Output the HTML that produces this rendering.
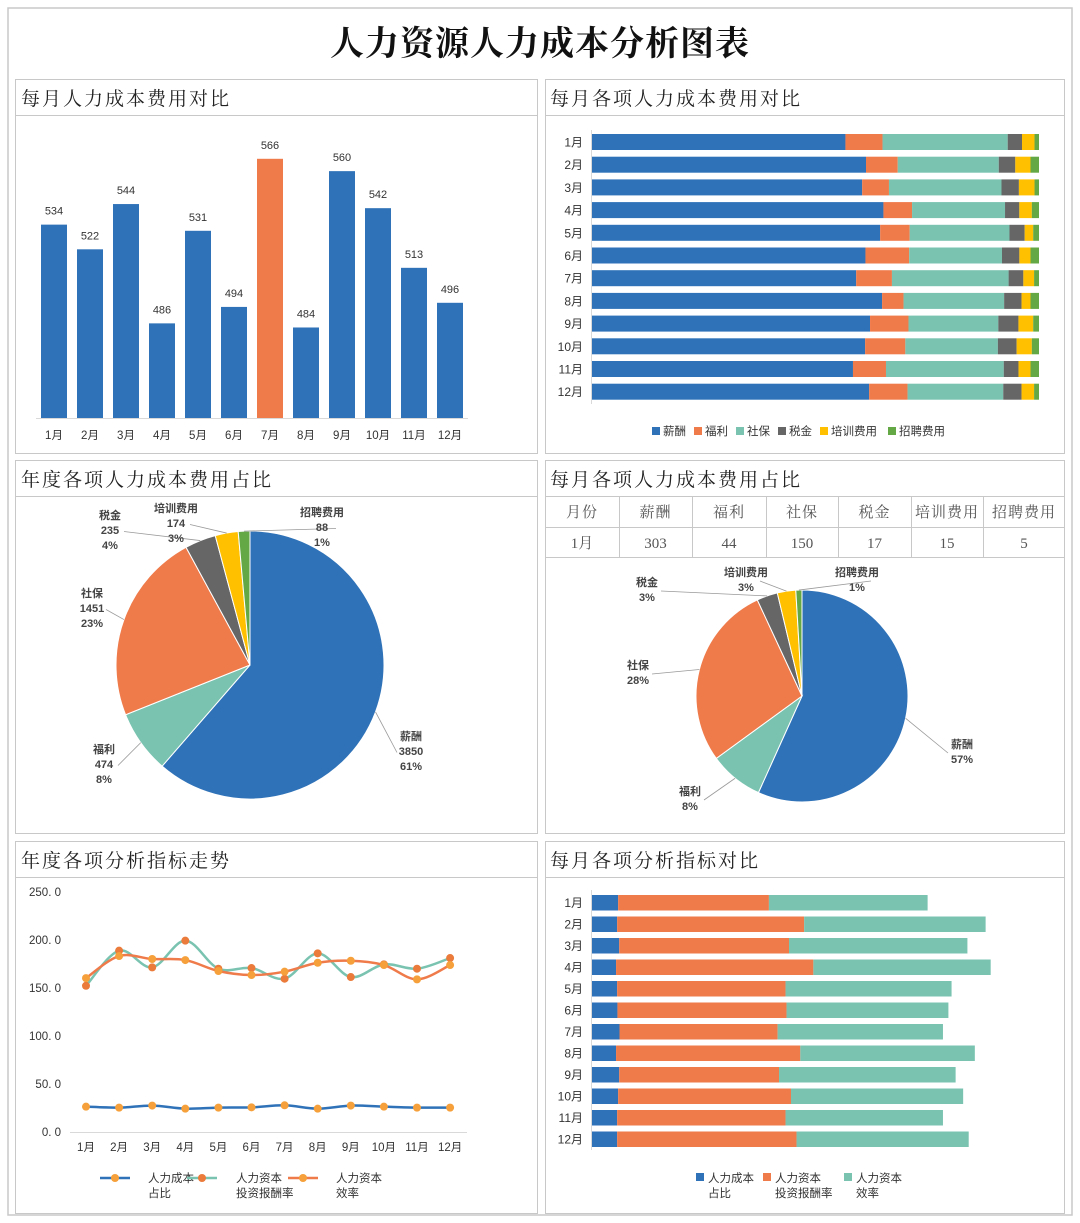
<!DOCTYPE html>
<html><head><meta charset="utf-8">
<style>
html,body{margin:0;padding:0;background:#fff;}
svg{display:block;}
.serif{font-family:"Liberation Serif","Noto Serif CJK SC",serif;}
.sans{font-family:"Liberation Sans","Noto Sans CJK SC",sans-serif;}
</style></head>
<body>
<svg id="root" width="1080" height="1223" viewBox="0 0 1080 1223" xmlns="http://www.w3.org/2000/svg">
  <rect x="8" y="8" width="1064" height="1207" fill="#fff" stroke="#c8c8c8" stroke-width="1.5"/>
  <text x="540" y="55" text-anchor="middle" class="serif" font-size="34" font-weight="bold" fill="#111" letter-spacing="1">人力资源人力成本分析图表</text>

  <g>
    <rect x="15.5" y="79.5" width="522" height="374" fill="none" stroke="#c8c8c8"/>
    <line x1="15.5" y1="115.5" x2="537.5" y2="115.5" stroke="#c8c8c8"/>
    <text x="21" y="105" class="serif" font-size="19" letter-spacing="2" fill="#222">每月人力成本费用对比</text>
  </g>
  <g>
    <rect x="545.5" y="79.5" width="519" height="374" fill="none" stroke="#c8c8c8"/>
    <line x1="545.5" y1="115.5" x2="1064.5" y2="115.5" stroke="#c8c8c8"/>
    <text x="550" y="105" class="serif" font-size="19" letter-spacing="2" fill="#222">每月各项人力成本费用对比</text>
  </g>
  <g>
    <rect x="15.5" y="460.5" width="522" height="373" fill="none" stroke="#c8c8c8"/>
    <line x1="15.5" y1="496.5" x2="537.5" y2="496.5" stroke="#c8c8c8"/>
    <text x="21" y="486" class="serif" font-size="19" letter-spacing="2" fill="#222">年度各项人力成本费用占比</text>
  </g>
  <g>
    <rect x="545.5" y="460.5" width="519" height="373" fill="none" stroke="#c8c8c8"/>
    <line x1="545.5" y1="496.5" x2="1064.5" y2="496.5" stroke="#c8c8c8"/>
    <text x="550" y="486" class="serif" font-size="19" letter-spacing="2" fill="#222">每月各项人力成本费用占比</text>
  </g>
  <g>
    <rect x="15.5" y="841.5" width="522" height="372" fill="none" stroke="#c8c8c8"/>
    <line x1="15.5" y1="877.5" x2="537.5" y2="877.5" stroke="#c8c8c8"/>
    <text x="21" y="867" class="serif" font-size="19" letter-spacing="2" fill="#222">年度各项分析指标走势</text>
  </g>
  <g>
    <rect x="545.5" y="841.5" width="519" height="372" fill="none" stroke="#c8c8c8"/>
    <line x1="545.5" y1="877.5" x2="1064.5" y2="877.5" stroke="#c8c8c8"/>
    <text x="550" y="867" class="serif" font-size="19" letter-spacing="2" fill="#222">每月各项分析指标对比</text>
  </g>
  <g id="g-bar1"></g><g id="g-stack1"></g><g id="g-pie1"></g><g id="g-table"></g><g id="g-pie2"></g><g id="g-line"></g><g id="g-stack2"></g>
</svg>
<script>
const months = ['1月','2月','3月','4月','5月','6月','7月','8月','9月','10月','11月','12月'];
const monthlyCost = [534,522,544,486,531,494,566,484,560,542,513,496];
const itemNames = ['薪酬','福利','社保','税金','培训费用','招聘费用'];
const salaryPct = [56.7,61.3,60.5,65.2,64.4,61.3,59.1,64.9,62.2,61.1,58.5,62.0];
const welfarePct = [8.3,7.1,6.0,6.4,6.6,9.8,8.0,4.8,8.6,9.0,7.4,8.6];
const socialPct = [28.0,22.6,25.2,20.8,22.3,20.8,26.1,22.5,20.1,20.7,26.4,21.4];
const taxPct = [3.2,3.7,3.9,3.2,3.4,3.9,3.3,3.9,4.5,4.2,3.3,4.1];
const trainPct = [2.8,3.4,3.5,2.8,1.9,2.5,2.4,2.0,3.3,3.4,2.7,2.8];
const recruitPct = [1.0,1.9,1.0,1.6,1.3,1.9,1.1,1.9,1.3,1.6,1.9,1.1];
const annualValues = [3850,474,1451,235,174,88];
const janValues = [303,44,150,17,15,5];
const costRatio = [26.4,25.4,27.5,24.3,25.4,25.7,27.8,24.3,27.5,26.4,25.4,25.4];
const roiRate = [152.3,188.9,171.5,199.3,170.1,170.8,159.7,186.1,161.4,174.6,170.1,181.2];
const efficiency = [160.3,183.3,180.2,179.1,167.7,163.5,167.0,176.3,178.4,173.9,159.0,173.9];
const lineTicks = [0,50,100,150,200,250];
const indicatorNames = [['人力成本','占比'],['人力资本','投资报酬率'],['人力资本','效率']];

const NS='http://www.w3.org/2000/svg';
const colors=['#2F72B8','#EF7A4A','#79C3B0','#666666','#FFC000','#63A844'];
const pieColors=['#2F72B8','#79C3B0','#EF7A4A','#666666','#FFC000','#63A844'];
function el(tag,attrs,parent,txt){const e=document.createElementNS(NS,tag);for(const k in attrs)e.setAttribute(k,attrs[k]);if(txt!==undefined)e.textContent=txt;parent.appendChild(e);return e;}
const SANS='"Liberation Sans","Noto Sans CJK SC",sans-serif';
const SERIF='"Liberation Serif","Noto Serif CJK SC",serif';

(function(){
  const g=document.getElementById('g-bar1');
  const yMin=440,yMax=580,base=418,top=130;
  const y=v=>base-(v-yMin)/(yMax-yMin)*(base-top);
  const x=i=>54+i*36;
  el('line',{x1:36,y1:base+0.5,x2:468,y2:base+0.5,stroke:'#d9d9d9'},g);
  monthlyCost.forEach((v,i)=>{
    const r=el('rect',{x:x(i)-13,y:y(v),width:26,height:base-y(v),fill:i===6?'#EF7A4A':'#2F72B8'},g);
    
    
    const t=el('text',{x:x(i),y:y(v)-10,'text-anchor':'middle','font-size':11,'font-family':SANS,fill:'#333'},g,String(v));
    
    
    const l=el('text',{x:x(i),y:439,'text-anchor':'middle','font-size':11.5,'font-family':SANS,fill:'#333'},g,months[i]);
    
    
  });
})();

(function(){
  const g=document.getElementById('g-stack1');
  const series=[salaryPct,welfarePct,socialPct,taxPct,trainPct,recruitPct];
  const x0=592,W=447;
  el('line',{x1:x0-0.5,y1:130,x2:x0-0.5,y2:404,stroke:'#d9d9d9'},g);
  months.forEach((m,i)=>{
    const yy=134+i*22.7;
    let tot=0;series.forEach(s=>tot+=s[i]);
    let acc=0;
    series.forEach((s,k)=>{
      const w=s[i]/tot*W;
      const r=el('rect',{x:x0+acc,y:yy,width:w,height:16,fill:colors[k]},g);
      
      
      acc+=w;
    });
    const t=el('text',{x:583,y:yy+12.5,'text-anchor':'end','font-size':12,'font-family':SANS,fill:'#333'},g,m);
    
    
  });
  const lx=[652,694,736,778,820,888];
  itemNames.forEach((n,k)=>{
    const lg=el('g',{},g);
    
    
    el('rect',{x:lx[k],y:427,width:8,height:8,fill:colors[k]},lg);
    el('text',{x:lx[k]+11,y:435,'font-size':11.5,'font-family':SANS,fill:'#333'},lg,n);
  });
})();

function pie(gid,values,cx,cy,r,labelPos,showVal){
  const g=document.getElementById(gid);
  const tot=values.reduce((a,b)=>a+b,0);
  let a=-Math.PI/2;
  values.forEach((v,k)=>{
    const da=v/tot*2*Math.PI;
    const a2=a+da;
    const x1=cx+r*Math.cos(a),y1=cy+r*Math.sin(a),x2=cx+r*Math.cos(a2),y2=cy+r*Math.sin(a2);
    const p=el('path',{d:`M${cx},${cy}L${x1},${y1}A${r},${r} 0 ${da>Math.PI?1:0} 1 ${x2},${y2}Z`,fill:pieColors[k],stroke:'#fff','stroke-width':1},g);
    
    
    const mid=a+da/2;
    const ex=cx+r*Math.cos(mid),ey=cy+r*Math.sin(mid);
    const lp=labelPos[k];
    const lines=showVal?[itemNames[k],String(v),Math.round(v/tot*100)+'%']:[itemNames[k],Math.round(v/tot*100)+'%'];
    const ax=lp[0],ay=lp[1];
    const h=lines.length*15;
    const lyE=ay+h/2-10;
    const lxE=ax+(ex<cx?14:-14);
    if(Math.hypot(lxE-ex,lyE-ey)>14) el('polyline',{points:`${ex},${ey} ${lxE},${lyE}`,fill:'none',stroke:'#999','stroke-width':0.8},g);
    const t=el('text',{x:ax,y:ay,'text-anchor':'middle','font-size':11,'font-family':SANS,fill:'#444','font-weight':'bold'},g);
    
    
    lines.forEach((ln,j)=>{el('tspan',{x:ax,dy:j?15:0},t,ln);});
    a=a2;
  });
}
pie('g-pie1',annualValues,250,665,134,[[411,740],[104,753],[92,597],[110,519],[176,512],[322,516]],true);
pie('g-pie2',janValues,802,696,106,[[962,748],[690,795],[638,669],[647,586],[746,576],[857,576]],false);

(function(){
  const g=document.getElementById('g-table');
  const cols=[545,619,692,766,838,911,983,1065];
  const head=['月份'].concat(itemNames);
  const row=['1月'].concat(janValues.map(String));
  el('line',{x1:545,y1:527.5,x2:1065,y2:527.5,stroke:'#c8c8c8'},g);
  el('line',{x1:545,y1:557.5,x2:1065,y2:557.5,stroke:'#c8c8c8'},g);
  cols.slice(1,-1).forEach(c=>el('line',{x1:c+0.5,y1:497,x2:c+0.5,y2:557,stroke:'#c8c8c8'},g));
  head.forEach((h,i)=>{
    const cx=(cols[i]+cols[i+1])/2;
    const t=el('text',{x:cx,y:517,'text-anchor':'middle','font-size':15,'font-family':SERIF,fill:'#555','letter-spacing':1},g,h);
    
    
    const d=el('text',{x:cx,y:548,'text-anchor':'middle','font-size':15,'font-family':SERIF,fill:'#555'},g,row[i]);
    
    
  });
})();

(function(){
  const g=document.getElementById('g-line');
  const y0=1132,y1=892,vmax=250;
  const y=v=>y0-v/vmax*(y0-y1);
  const x=i=>86+i*33.1;
  lineTicks.forEach(t=>{
    const tx=el('text',{x:61,y:y(t)+4,'text-anchor':'end','font-size':11.5,'font-family':SANS,fill:'#333'},g,t.toFixed(1).replace('.','. '));
    
    
  });
  el('line',{x1:70,y1:y0+0.5,x2:467,y2:y0+0.5,stroke:'#d9d9d9'},g);
  months.forEach((m,i)=>{
    const t=el('text',{x:x(i),y:1151,'text-anchor':'middle','font-size':11.5,'font-family':SANS,fill:'#333'},g,m);
    
    
  });
  function smooth(vals){
    const p=vals.map((v,i)=>[x(i),y(v)]);
    let d=`M${p[0][0]},${p[0][1]}`;
    for(let i=0;i<p.length-1;i++){
      const p0=p[i-1]||p[i],p1=p[i],p2=p[i+1],p3=p[i+2]||p2;
      const c1=[p1[0]+(p2[0]-p0[0])/6,p1[1]+(p2[1]-p0[1])/6];
      const c2=[p2[0]-(p3[0]-p1[0])/6,p2[1]-(p3[1]-p1[1])/6];
      d+=`C${c1[0]},${c1[1]} ${c2[0]},${c2[1]} ${p2[0]},${p2[1]}`;
    }
    return d;
  }
  const series=[[costRatio,'#2F72B8','#F5A03A'],[roiRate,'#79C3B0','#EA7B3A'],[efficiency,'#EF7A4A','#F5A03A']];
  const names=['line-cost-ratio','line-roi','line-efficiency'];
  series.forEach((s,k)=>{
    const p=el('path',{d:smooth(s[0]),fill:'none',stroke:s[1],'stroke-width':2.5},g);
    
    
  });
  series.forEach((s,k)=>{
    s[0].forEach((v,i)=>{
      const c=el('circle',{cx:x(i),cy:y(v),r:4,fill:s[2]},g);
      
      
    });
  });
  const lx=[[100,148],[187,236],[288,336]];
  indicatorNames.forEach((n,k)=>{
    const lg=el('g',{},g);
    
    
    el('line',{x1:lx[k][0],y1:1178,x2:lx[k][0]+30,y2:1178,stroke:series[k][1],'stroke-width':2.5},lg);
    el('circle',{cx:lx[k][0]+15,cy:1178,r:4,fill:series[k][2]},lg);
    el('text',{x:lx[k][1],y:1182,'font-size':11.5,'font-family':SANS,fill:'#333'},lg,n[0]);
    el('text',{x:lx[k][1],y:1197,'font-size':11.5,'font-family':SANS,fill:'#333'},lg,n[1]);
  });
})();

(function(){
  const g=document.getElementById('g-stack2');
  const x0=592,scale=0.99;
  const series=[costRatio,roiRate,efficiency];
  const cols=['#2F72B8','#EF7A4A','#79C3B0'];
  el('line',{x1:x0-0.5,y1:890,x2:x0-0.5,y2:1150,stroke:'#d9d9d9'},g);
  months.forEach((m,i)=>{
    const yy=895+i*21.5;
    let acc=0;
    series.forEach((s,k)=>{
      const w=s[i]*scale;
      const r=el('rect',{x:x0+acc,y:yy,width:w,height:15.5,fill:cols[k]},g);
      
      
      acc+=w;
    });
    const t=el('text',{x:583,y:yy+12,'text-anchor':'end','font-size':12,'font-family':SANS,fill:'#333'},g,m);
    
    
  });
  const lx=[696,763,844];
  indicatorNames.forEach((n,k)=>{
    const lg=el('g',{},g);
    
    
    el('rect',{x:lx[k],y:1173,width:8,height:8,fill:cols[k]},lg);
    el('text',{x:lx[k]+12,y:1182,'font-size':11.5,'font-family':SANS,fill:'#333'},lg,n[0]);
    el('text',{x:lx[k]+12,y:1197,'font-size':11.5,'font-family':SANS,fill:'#333'},lg,n[1]);
  });
})();
</script>
</body></html>
